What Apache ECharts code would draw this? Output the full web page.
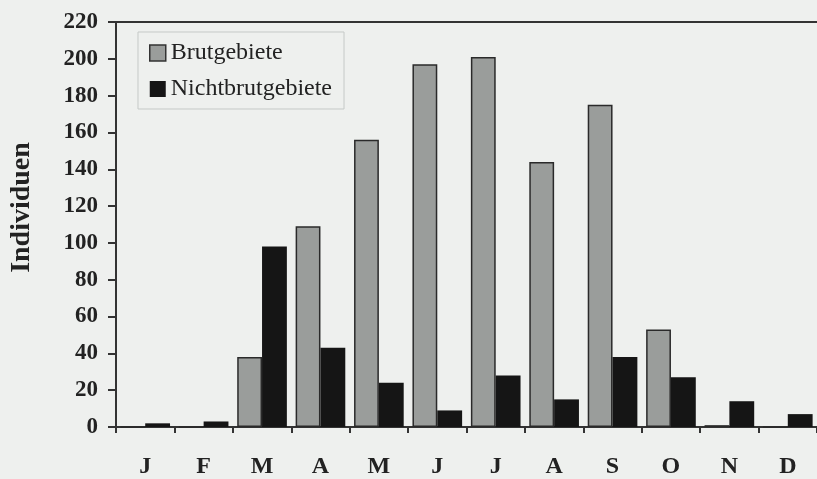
<!DOCTYPE html>
<html><head><meta charset="utf-8">
<script src="https://cdn.jsdelivr.net/npm/echarts@6/dist/echarts.min.js"></script>
<style>html,body{margin:0;padding:0;background:#eef0ee;}#c{width:817px;height:479px;}</style>
</head><body><div id="c"></div>
<script>
const months = ['J','F','M','A','M','J','J','A','S','O','N','D'];
const brutgebiete = [0, 0, 38, 109, 156, 197, 201, 144, 175, 53, 1, 0];
const nichtbrutgebiete = [2, 3, 98, 43, 24, 9, 28, 15, 38, 27, 14, 7];
const yTicks = [0, 20, 40, 60, 80, 100, 120, 140, 160, 180, 200, 220];

const chart = echarts.init(document.getElementById('c'));
const font = 'Liberation Serif';
chart.setOption({
  backgroundColor: '#eef0ee',
  animation: false,
  grid: {left: 113, right: -9, top: 22, bottom: 52},
  legend: {
    orient: 'vertical', left: 138, top: 32,
    padding: [9, 12, 8, 11],
    borderColor: '#c5c9c7', borderWidth: 1,
    icon: 'rect',
    itemWidth: 16, itemHeight: 16, itemGap: 12,
    textStyle: {fontFamily: font, fontSize: 24, color: '#222', padding: [0, 0, 0, 0]},
    data: [
      {name: 'Brutgebiete', itemStyle: {color: '#9a9d9b', borderColor: '#333', borderWidth: 1.5}},
      {name: 'Nichtbrutgebiete', itemStyle: {color: '#151515'}}
    ]
  },
  xAxis: [{
    type: 'category', data: months,
    axisLine: {lineStyle: {color: '#333', width: 2}},
    axisTick: {show: true, length: 6, lineStyle: {color: '#333', width: 2}},
    axisLabel: {fontFamily: font, fontSize: 24, fontWeight: 'bold', color: '#222', margin: 28}
  }, {
    type: 'category', data: months, position: 'top',
    axisLine: {show: true, lineStyle: {color: '#333', width: 2}},
    axisTick: {show: false}, axisLabel: {show: false}
  }],
  yAxis: {
    type: 'value', min: 0, max: 220, interval: 20,
    name: 'Individuen', nameLocation: 'middle', nameGap: 80, nameRotate: 90,
    nameTextStyle: {fontFamily: font, fontSize: 28, fontWeight: 'bold', color: '#222', padding: [0, 0, 0, 34]},
    axisLine: {show: true, lineStyle: {color: '#333', width: 2}},
    axisTick: {show: true, length: 8, lineStyle: {color: '#333', width: 2}},
    axisLabel: {fontFamily: font, fontSize: 23, fontWeight: 'bold', color: '#222', margin: 18,
      formatter: v => yTicks.includes(v) ? String(v) : ''},
    splitLine: {show: false}
  },
  series: [{
    name: 'Brutgebiete', type: 'bar', data: brutgebiete,
    barGap: 0, barCategoryGap: '15%',
    itemStyle: {color: '#9a9d9b', borderColor: '#2a2a2a', borderWidth: 1.5}
  }, {
    name: 'Nichtbrutgebiete', type: 'bar', data: nichtbrutgebiete,
    barGap: 0, barCategoryGap: '15%',
    itemStyle: {color: '#151515'}
  }]
});
</script></body></html>
